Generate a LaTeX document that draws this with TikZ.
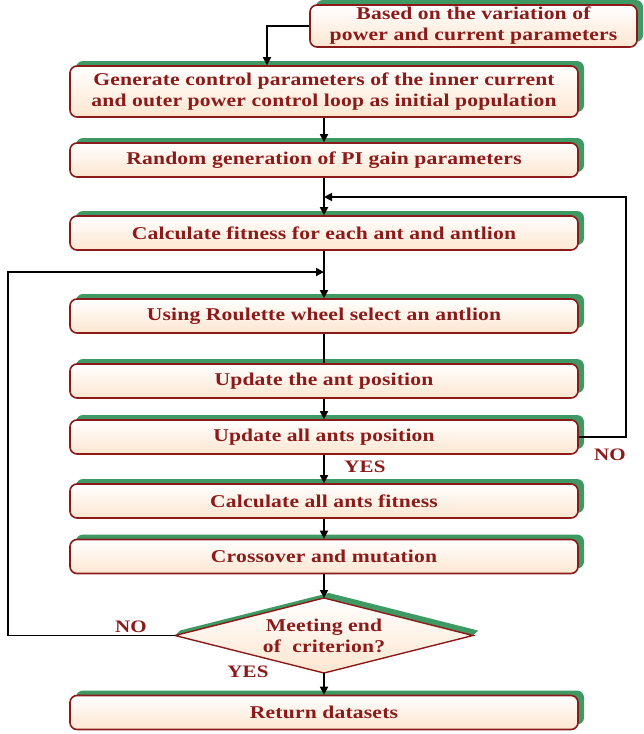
\documentclass[tikz,border=0pt]{standalone}
\usepackage{fontspec}
\setmainfont{Liberation Serif}
\usetikzlibrary{shadows,arrows.meta,calc}
\definecolor{bred}{HTML}{8B1A1A}
\definecolor{peach}{HTML}{FDE6D0}
\definecolor{sgreen}{HTML}{3E9A62}
\newfontfamily\boxfont[FakeStretch=1.2,LetterSpace=1]{Liberation Serif}
\tikzset{
  box/.style={draw=bred, line width=1.6pt, rounded corners=7pt,
    top color=white, bottom color=peach, text=bred,
    font=\boxfont\bfseries\fontsize{18}{21}\selectfont,
    minimum width=508pt, minimum height=34pt, align=center, inner sep=0pt,
    drop shadow={shadow xshift=6pt, shadow yshift=5pt, fill=sgreen, opacity=1}},
  arr/.style={draw=black, line width=1.8pt, -{Triangle[length=8pt,width=8pt]}},
  ln/.style={draw=black, line width=1.8pt},
  lbl/.style={text=bred, font=\boxfont\bfseries\fontsize{17.5}{18}\selectfont}
}
\begin{document}
\begin{tikzpicture}[x=1pt,y=-1pt]
\useasboundingbox (0,0) rectangle (643,734);
\node[box, minimum width=327pt, minimum height=42pt] (b0) at (473.5,26) {Based on the variation of\\power and current parameters};
\node[box, minimum height=51pt] (b1) at (324,91.5) {Generate control parameters of the inner current\\and outer power control loop as initial population};
\node[box] (b2) at (324,160) {Random generation of PI gain parameters};
\node[box] (b3) at (324,233) {Calculate fitness for each ant and antlion};
\node[box] (b4) at (324,316) {Using Roulette wheel select an antlion};
\node[box] (b5) at (324,381) {Update the ant position};
\node[box] (b6) at (324,437) {Update all ants position};
\node[box] (b7) at (324,501) {Calculate all ants fitness};
\node[box] (b8) at (324,556.5) {Crossover and mutation};
\node[box] (b9) at (324,712.5) {Return datasets};
% diamond
\coordinate (dt) at (324,598);
\coordinate (dl) at (175,635.5);
\coordinate (dr) at (473,635.5);
\coordinate (db) at (324,673);
\fill[sgreen] ($(dl)+(5,-5)$) -- ($(dt)+(5,-5)$) -- ($(dr)+(5,-5)$) -- (dr) -- (dt) -- (dl) -- cycle;
\path[draw=bred, line width=1.4pt, top color=white, bottom color=peach] (dl) -- (dt) -- (dr) -- (db) -- cycle;
\node[text=bred, font=\boxfont\bfseries\fontsize{18}{21}\selectfont, align=center] (dd) at (324,636) {Meeting end\\of~~criterion?};
% connectors
\coordinate (k1) at (267,0);
\draw[arr] (b0.west) -| (k1 |- b1.north);
\draw[arr] (b1.south) -- (b2.north);
\draw[arr] (b2.south) -- (b3.north);
\draw[arr] (b3.south) -- (b4.north);
\draw[ln] (b4.south) -- (b5.north);
\draw[arr] (b5.south) -- (b6.north);
\draw[arr] (b6.south) -- (b7.north);
\draw[arr] (b7.south) -- (b8.north);
\draw[arr] (b8.south) -- (dt);
\draw[arr] (db) -- (b9.north);
\coordinate (rr) at (626,197);
\coordinate (j1) at (324,197);
\draw[arr] (b6.east) -| (rr) -- (j1);
\coordinate (ll) at (8,272);
\coordinate (j2) at (324,272);
\draw[arr] (dl) -| (ll) -- (j2);
% labels
\node[lbl] (y1) at (365,467) {YES};
\node[lbl] (n1) at (610,455) {NO};
\node[lbl] (n2) at (131,627) {NO};
\node[lbl] (y2) at (248,672) {YES};
\end{tikzpicture}
\end{document}
